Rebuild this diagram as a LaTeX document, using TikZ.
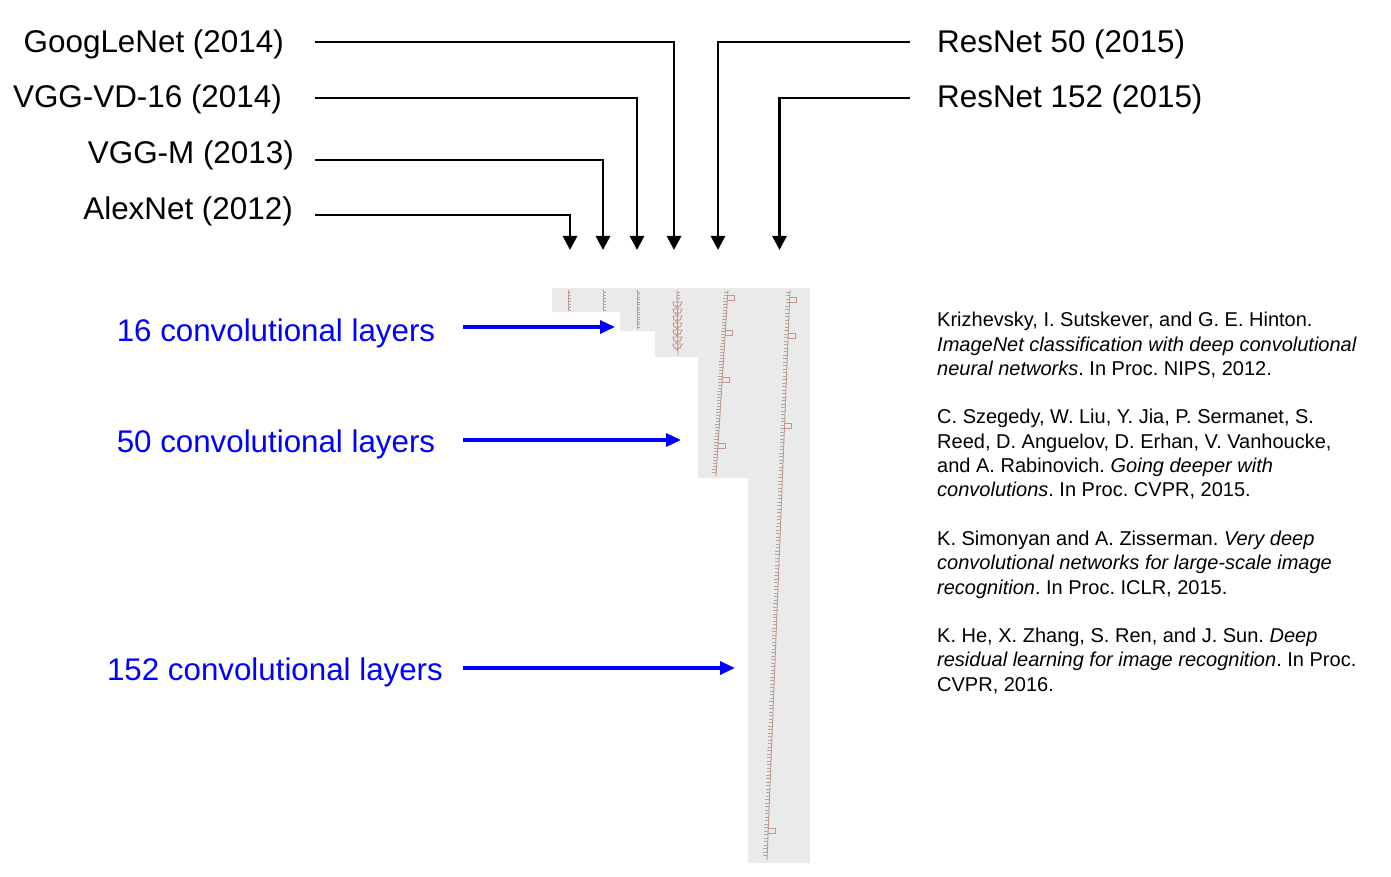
\documentclass[tikz,border=0pt]{standalone}
\usepackage{fontspec}
\setmainfont{Liberation Sans}
\usetikzlibrary{arrows.meta}
\frenchspacing
\definecolor{greybg}{RGB}{234,234,234}
\definecolor{netc}{RGB}{196,150,138}
\definecolor{tickc}{RGB}{180,165,158}
\definecolor{pureblue}{RGB}{0,0,255}
\tikzset{
  biglabel/.style={inner sep=0pt, font=\fontsize{31.4}{36}\selectfont},
  bluelabel/.style={inner sep=0pt, text=pureblue, font=\fontsize{31.3}{36}\selectfont},
  refline/.style={inner sep=0pt, anchor=base west, font=\fontsize{20}{24.3}\selectfont\frenchspacing},
  blkarrow/.style={line width=2.8pt, -{Triangle[length=14pt,width=14pt]}},
  bluearrow/.style={line width=3.4pt, pureblue, -{Triangle[length=15pt,width=13pt]}},
  netline/.style={draw=netc, line width=0.9pt},
  tickline/.style={draw=tickc, line width=0.6pt},
}
\begin{document}
\begin{tikzpicture}[x=1pt,y=-1pt]
\useasboundingbox (0,0) rectangle (1391,877);

% grey background region with steps
\fill[greybg] (552,288) -- (810,288) -- (810,863) -- (748,863) -- (748,478)
  -- (698,478) -- (698,357) -- (655,357) -- (655,331) -- (620,331) -- (620,312)
  -- (552,312) -- cycle;

% AlexNet column
\draw[netline] (568,290) -- (568,311);
\foreach \y in {292,295,...,310} \draw[tickline] (568,\y) -- ++(3,0);
% VGG-M column
\draw[netline] (603,290) -- (603,311);
\foreach \y in {292,295,...,310} \draw[tickline] (603,\y) -- ++(3,0);
% VGG-VD-16 column
\draw[netline] (637,290) -- (637,329);
\foreach \y in {292,294.5,...,328} \draw[tickline] (637,\y) -- ++(3,0);
% GoogLeNet column
\draw[netline] (677,290) -- (678,355);
\foreach \y in {292,295,...,300} \draw[tickline] (677,\y) -- ++(3,0);
\foreach \y in {302,309,...,350} {
  \draw[netline] (673,\y) -- (682,\y) -- (680,\y+4) -- (674,\y+4) -- cycle;
  \draw[netline] (675,\y+4) -- (677,\y+6) -- (679,\y+4);
}
% ResNet 50 column
\draw[netline] (728,290) -- (716,476);
\foreach \y in {292,295,...,474} {
  \pgfmathsetmacro\xx{728-12*(\y-290)/186}
  \draw[tickline] (\xx,\y) -- ++(-4,0);
}
\foreach \y in {295,330,377,443} {
  \pgfmathsetmacro\xx{728-12*(\y-290)/186}
  \draw[netline] (\xx,\y) -- ++(7,0) -- ++(0,5) -- ++(-7,0);
}
% ResNet 152 column
\draw[netline] (790,290) -- (767,860);
\foreach \y in {292,295.5,...,858} {
  \pgfmathsetmacro\xx{790-23*(\y-290)/570}
  \draw[tickline] (\xx,\y) -- ++(-4,0);
}
\foreach \y in {297,333,423,828} {
  \pgfmathsetmacro\xx{790-23*(\y-290)/570}
  \draw[netline] (\xx,\y) -- ++(7,0) -- ++(0,5) -- ++(-7,0);
}

% network labels
\node[biglabel, anchor=base east] (goog) at (284,53) {GoogLeNet (2014)};
\node[biglabel, anchor=base east] (vgg16) at (282,108) {VGG-VD-16 (2014)};
\node[biglabel, anchor=base east] (vggm) at (294,164) {VGG-M (2013)};
\node[biglabel, anchor=base east] (alex) at (293,220) {AlexNet (2012)};
\node[biglabel, anchor=base west] (res50) at (937,53) {ResNet 50 (2015)};
\node[biglabel, anchor=base west] (res152) at (937,108) {ResNet 152 (2015)};

% connector ends
\coordinate (sGoog) at (315,42);
\coordinate (sVgg16) at (315,98);
\coordinate (sVggm) at (315,160);
\coordinate (sAlex) at (315,215);
\coordinate (sRes50) at (910,42);
\coordinate (sRes152) at (910,98);
\coordinate (tAlex) at (570,250);
\coordinate (tVggm) at (603,250);
\coordinate (tVgg16) at (637,250);
\coordinate (tGoog) at (674,250);
\coordinate (tRes50) at (718,250);
\coordinate (tRes152) at (779.5,250);

\draw[blkarrow] (sGoog) -| (tGoog);
\draw[blkarrow] (sVgg16) -| (tVgg16);
\draw[blkarrow] (sVggm) -| (tVggm);
\draw[blkarrow] (sAlex) -| (tAlex);
\draw[blkarrow] (sRes50) -| (tRes50);
\draw[blkarrow] (sRes152) -| (tRes152);

% blue labels and arrows
\node[bluelabel, anchor=base] (c16) at (276,341) {16 convolutional layers};
\node[bluelabel, anchor=base] (c50) at (276,452) {50 convolutional layers};
\node[bluelabel, anchor=base] (c152) at (275,680) {152 convolutional layers};
\coordinate (b16s) at (463,327);
\coordinate (b16t) at (615,327);
\coordinate (b50s) at (463,440);
\coordinate (b50t) at (681,440);
\coordinate (b152s) at (463,668);
\coordinate (b152t) at (735,668);
\draw[bluearrow] (b16s) -- (b16t);
\draw[bluearrow] (b50s) -- (b50t);
\draw[bluearrow] (b152s) -- (b152t);

% references
\node[refline] (r1) at (937,326.7) {Krizhevsky, I. Sutskever, and G. E. Hinton.};
\node[refline] (r2) at (937,351.0) {\itshape ImageNet classification with deep convolutional};
\node[refline] (r3) at (937,375.3) {{\itshape neural networks}. In Proc. NIPS, 2012.};
\node[refline] (r4) at (937,423.9) {C. Szegedy, W. Liu, Y. Jia, P. Sermanet, S.};
\node[refline] (r5) at (937,448.2) {Reed, D. Anguelov, D. Erhan, V. Vanhoucke,};
\node[refline] (r6) at (937,472.5) {and A. Rabinovich. {\itshape Going deeper with}};
\node[refline] (r7) at (937,496.8) {{\itshape convolutions}. In Proc. CVPR, 2015.};
\node[refline] (r8) at (937,545.4) {K. Simonyan and A. Zisserman. {\itshape Very deep}};
\node[refline] (r9) at (937,569.7) {\itshape convolutional networks for large-scale image};
\node[refline] (r10) at (937,594.0) {{\itshape recognition}. In Proc. ICLR, 2015.};
\node[refline] (r11) at (937,642.6) {K. He, X. Zhang, S. Ren, and J. Sun. {\itshape Deep}};
\node[refline] (r12) at (937,666.9) {{\itshape residual learning for image recognition}. In Proc.};
\node[refline] (r13) at (937,691.2) {CVPR, 2016.};
\end{tikzpicture}
\end{document}
